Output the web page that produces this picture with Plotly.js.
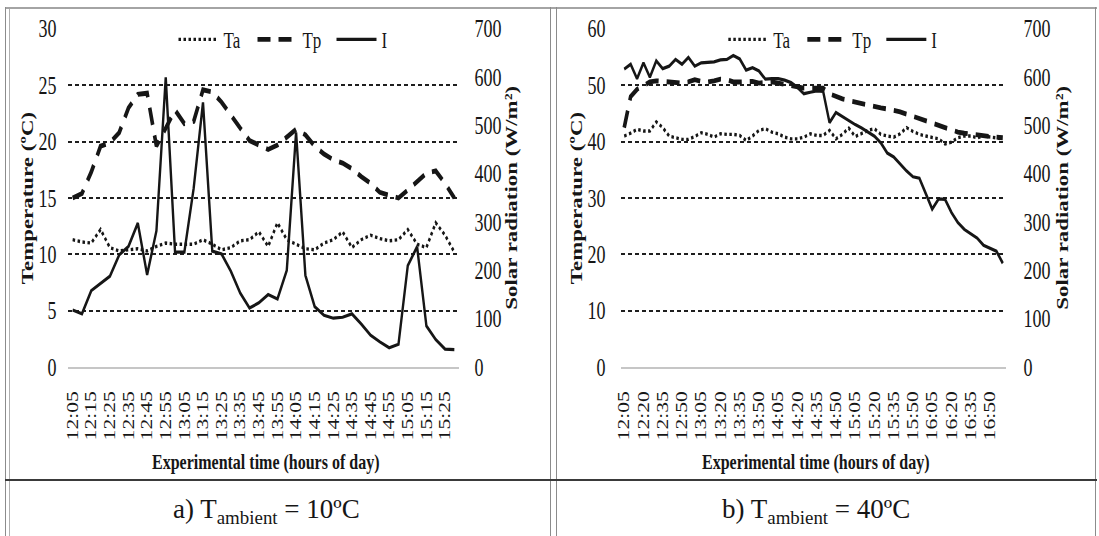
<!DOCTYPE html>
<html><head><meta charset="utf-8">
<script src="https://cdn.plot.ly/plotly-3.0.1.min.js"></script>
<style>
html,body{margin:0;padding:0;background:#fff;}
#wrap{position:relative;width:1099px;height:536px;overflow:hidden;background:#fff;}
#chart{position:absolute;left:0;top:0;width:1099px;height:356px;transform:scaleY(1.3483);transform-origin:0 0;}
#cap{position:absolute;left:0;top:480px;width:1099px;height:56px;}
.ln{position:absolute;z-index:5;}
</style></head><body>
<div id="wrap">
<div id="chart"></div>
<div id="cap"></div>
<div class="ln" style="left:5px;top:7px;width:1092px;height:2px;background:#a4a4a4"></div>
<div class="ln" style="left:5px;top:7px;width:1px;height:529px;background:#8c8c8c"></div>
<div class="ln" style="left:9px;top:9px;width:1px;height:527px;background:#b0b0b0"></div>
<div class="ln" style="left:550px;top:7px;width:1px;height:529px;background:#8c8c8c"></div>
<div class="ln" style="left:556px;top:7px;width:1px;height:529px;background:#8c8c8c"></div>
<div class="ln" style="left:1095px;top:7px;width:1px;height:529px;background:#8c8c8c"></div>
<div class="ln" style="left:5px;top:479px;width:1092px;height:2px;background:#3a3a3a"></div>
</div>
<script>
// ---- data ----
const leftTimes = ['12:05','12:10','12:15','12:20','12:25','12:30','12:35','12:40','12:45','12:50','12:55','13:00','13:05','13:10','13:15','13:20','13:25','13:30','13:35','13:40','13:45','13:50','13:55','14:00','14:05','14:10','14:15','14:20','14:25','14:30','14:35','14:40','14:45','14:50','14:55','15:00','15:05','15:10','15:15','15:20','15:25','15:30'];
const leftTickLabels = ['12:05','12:15','12:25','12:35','12:45','12:55','13:05','13:15','13:25','13:35','13:45','13:55','14:05','14:15','14:25','14:35','14:45','14:55','15:05','15:15','15:25'];
const leftTa = [11.3,11.1,11.0,12.2,10.6,10.3,10.4,10.5,10.3,10.7,11.0,10.9,10.9,10.9,11.3,10.9,10.4,10.6,11.2,11.3,12.0,10.7,12.8,11.3,10.9,10.5,10.4,11.0,11.3,12.0,10.6,11.3,11.7,11.4,11.2,11.3,12.2,10.9,10.6,12.8,11.7,10.2];
const leftTp = [15.0,15.4,17.3,19.6,19.9,20.8,23.0,24.2,24.3,19.6,21.2,22.8,21.6,21.8,24.6,24.4,23.5,22.3,21.2,20.1,19.7,19.3,19.7,20.4,21.1,20.6,19.6,18.9,18.4,18.1,17.6,16.9,16.3,15.5,15.3,15.0,15.7,16.4,17.2,17.4,16.3,15.0];
const leftI = [118,110,158,174,188,232,250,298,191,282,600,238,238,370,548,240,234,198,153,122,133,150,141,200,486,190,125,107,101,103,110,89,66,52,40,47,210,249,85,57,37,36];

const rightTimes = ['12:05','12:10','12:15','12:20','12:25','12:30','12:35','12:40','12:45','12:50','12:55','13:00','13:05','13:10','13:15','13:20','13:25','13:30','13:35','13:40','13:45','13:50','13:55','14:00','14:05','14:10','14:15','14:20','14:25','14:30','14:35','14:40','14:45','14:50','14:55','15:00','15:05','15:10','15:15','15:20','15:25','15:30','15:35','15:40','15:45','15:50','15:55','16:00','16:05','16:10','16:15','16:20','16:25','16:30','16:35','16:40','16:45','16:50','16:55','17:00'];
const rightTickLabels = ['12:05','12:20','12:35','12:50','13:05','13:20','13:35','13:50','14:05','14:20','14:35','14:50','15:05','15:20','15:35','15:50','16:05','16:20','16:35','16:50'];
const rightTa = [41.0,41.5,42.2,41.9,41.9,43.5,42.5,41.0,40.7,40.4,40.4,40.9,41.6,41.3,40.8,41.4,41.3,41.3,41.1,40.2,41.0,42.0,42.3,41.7,41.4,40.8,40.5,40.5,40.8,41.4,41.1,41.1,42.0,40.5,41.3,42.4,40.9,41.5,42.0,42.3,41.3,41.0,40.8,41.4,42.5,41.8,41.3,41.0,40.7,40.5,39.6,39.9,40.7,41.0,41.0,40.7,41.0,40.8,40.7,40.5];
const rightTp = [42.5,48.0,49.3,50.0,50.6,50.8,50.7,50.5,50.5,50.4,50.6,51.0,50.7,50.6,50.8,51.1,51.0,50.6,50.6,50.7,50.7,50.4,50.6,50.6,50.4,50.2,50.0,49.6,49.5,49.5,49.4,49.5,48.5,48.0,47.6,47.3,47.0,46.8,46.5,46.2,46.0,45.8,45.6,45.3,44.9,44.5,44.1,43.7,43.2,42.7,42.3,42.0,41.7,41.5,41.3,41.1,41.0,40.9,40.8,40.7];
const rightI = [617,627,597,630,600,634,618,623,637,627,641,623,630,630,632,636,637,645,638,615,620,613,596,597,597,594,589,579,566,569,572,571,506,527,518,510,502,495,487,478,464,443,435,420,406,394,391,359,327,348,347,320,299,285,275,267,252,246,240,215];

const seriesNames = ['Ta','Tp','I'];
const captionA = 'a) T<sub>ambient</sub> = 10ºC';
const captionB = 'b) T<sub>ambient</sub> = 40ºC';
const xTitle = 'Experimental time (hours of day)';
const yTitleL = 'Temperature (ºC)';
const yTitleR = 'Solar radiation (W/m²)';

// ---- styles ----
const FONT = '"Liberation Serif", "Times New Roman", Times, serif';
const INK = '#161616';
const CLEAR = 'rgba(0,0,0,0)';
const sTa = {color:INK, width:2.5, dash:'2.5px,2.5px'};
const sTp = {color:INK, width:3.6, dash:'13px,8px'};
const sI = {color:INK, width:2.4};

function mk(x, y, name, xa, ya, line, lg){
  return {x:x, y:y, name:name, xaxis:xa, yaxis:ya, type:'scatter', mode:'lines', line:line, legend:lg, hoverinfo:'skip'};
}
const traces = [
  mk(leftTimes, leftTa, seriesNames[0], 'x', 'y', sTa, 'legend'),
  mk(leftTimes, leftTp, seriesNames[1], 'x', 'y', sTp, 'legend'),
  mk(leftTimes, leftI, seriesNames[2], 'x', 'y2', sI, 'legend'),
  mk(rightTimes, rightTa, seriesNames[0], 'x2', 'y3', sTa, 'legend2'),
  mk(rightTimes, rightTp, seriesNames[1], 'x2', 'y3', sTp, 'legend2'),
  mk(rightTimes, rightI, seriesNames[2], 'x2', 'y4', sI, 'legend2')
];

const YD = [0.2354, 0.9396];
function xax(dom, anchor, cats, ticks){
  return {domain:dom, anchor:anchor, type:'category', range:[-0.5, cats.length-0.5],
    tickmode:'array', tickvals:ticks, ticktext:ticks, tickangle:-90,
    tickfont:{family:FONT, size:16, color:INK}, ticks:'outside', ticklen:10, tickcolor:CLEAR,
    showgrid:false, showline:true, linecolor:'#c6c6c6', linewidth:1.6, zeroline:false, fixedrange:true};
}
function yax(anchor, max, dt, len){
  return {domain:YD, anchor:anchor, range:[0,max], dtick:dt, tick0:0, tickmode:'linear',
    showgrid:true, gridcolor:'#1e1e1e', gridwidth:1.3, griddash:'4px,3px',
    zeroline:true, zerolinecolor:'#c6c6c6', zerolinewidth:1.6, showline:false,
    ticks:'outside', ticklen:len, tickcolor:CLEAR, tickfont:{family:FONT, size:18, color:INK}, fixedrange:true};
}
function y2ax(over, anchor, len){
  return {overlaying:over, side:'right', anchor:anchor, range:[0,700], dtick:100, tick0:0, tickmode:'linear',
    showgrid:false, zeroline:false, showline:false, ticks:'outside', ticklen:len, tickcolor:CLEAR,
    tickfont:{family:FONT, size:18, color:INK}, fixedrange:true};
}
function leg(xc){
  return {orientation:'h', x:xc, xanchor:'center', y:0.9166, yanchor:'middle', bgcolor:CLEAR,
    font:{family:FONT, size:17, color:INK}, itemwidth:40, entrywidth:24, entrywidthmode:'pixels',
    itemclick:false, itemdoubleclick:false};
}
function ann(text, x, y, angle, size){
  return {text:text, x:x, y:y, xref:'paper', yref:'paper', showarrow:false, textangle:angle,
    xanchor:'center', yanchor:'middle', font:{family:FONT, size:size, color:INK}};
}
const layout = {
  width:1099, height:356, margin:{l:0, r:0, t:0, b:0},
  paper_bgcolor:CLEAR, plot_bgcolor:CLEAR, hovermode:false, showlegend:true,
  xaxis: xax([0.06187, 0.41765], 'y', leftTimes, leftTickLabels),
  yaxis: yax('x', 30, 5, 7),
  yaxis2: y2ax('y', 'x', 11),
  xaxis2: xax([0.56506, 0.91538], 'y3', rightTimes, rightTickLabels),
  yaxis3: yax('x2', 60, 10, 11),
  yaxis4: y2ax('y3', 'x2', 13),
  legend: leg(0.2657),
  legend2: leg(0.766),
  annotations: [
    ann('<b>'+yTitleL+'</b>', 28/1099, 0.5875, -90, 17),
    ann('<b>'+yTitleR+'</b>', 512/1099, 0.5875, -90, 17),
    ann('<b>'+xTitle+'</b>', 266/1099, 0.0375, 0, 16),
    ann('<b>'+yTitleL+'</b>', 577/1099, 0.5875, -90, 17),
    ann('<b>'+yTitleR+'</b>', 1063/1099, 0.5875, -90, 17),
    ann('<b>'+xTitle+'</b>', 816/1099, 0.0375, 0, 16)
  ]
};
Plotly.newPlot('chart', traces, layout, {staticPlot:true, displayModeBar:false});

const capLayout = {
  width:1099, height:56, margin:{l:0, r:0, t:0, b:0},
  paper_bgcolor:CLEAR, plot_bgcolor:CLEAR, showlegend:false,
  xaxis:{visible:false, range:[0,1]}, yaxis:{visible:false, range:[0,1]},
  annotations:[ ann(captionA, 266/1099, 0.45, 0, 27), ann(captionB, 816/1099, 0.45, 0, 27) ]
};
Plotly.newPlot('cap', [], capLayout, {staticPlot:true, displayModeBar:false});
</script>
</body></html>
